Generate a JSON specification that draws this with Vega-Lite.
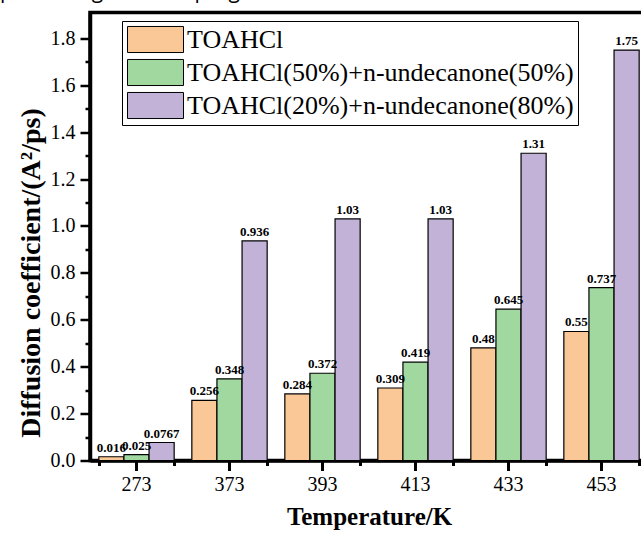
{
  "$schema": "https://vega.github.io/schema/vega-lite/v6.json",
  "autosize": {"type": "none"},
  "width": 558,
  "height": 448,
  "padding": {"left": 90, "top": 12.5, "right": 0, "bottom": 74.5},
  "background": "white",
  "title": {
    "text": "promoting reaction progress.",
    "anchor": "start",
    "frame": "group",
    "orient": "top",
    "offset": 0,
    "dx": -90,
    "dy": 6,
    "baseline": "alphabetic",
    "font": "Open Sans",
    "fontSize": 21,
    "fontWeight": "normal",
    "color": "black"
  },
  "config": {
    "view": {"stroke": "black", "strokeWidth": 3.5},
    "axis": {
      "domainColor": "black",
      "domainWidth": 3.5,
      "tickColor": "black",
      "labelColor": "black",
      "titleColor": "black",
      "labelFont": "Liberation Serif",
      "titleFont": "Liberation Serif",
      "grid": false
    }
  },
  "data": {
    "values": [
      {"Temperature": "273", "Series": "TOAHCl", "value": 0.016},
      {"Temperature": "273", "Series": "TOAHCl(50%)+n-undecanone(50%)", "value": 0.025},
      {"Temperature": "273", "Series": "TOAHCl(20%)+n-undecanone(80%)", "value": 0.0767},
      {"Temperature": "373", "Series": "TOAHCl", "value": 0.256},
      {"Temperature": "373", "Series": "TOAHCl(50%)+n-undecanone(50%)", "value": 0.348},
      {"Temperature": "373", "Series": "TOAHCl(20%)+n-undecanone(80%)", "value": 0.936},
      {"Temperature": "393", "Series": "TOAHCl", "value": 0.284},
      {"Temperature": "393", "Series": "TOAHCl(50%)+n-undecanone(50%)", "value": 0.372},
      {"Temperature": "393", "Series": "TOAHCl(20%)+n-undecanone(80%)", "value": 1.03},
      {"Temperature": "413", "Series": "TOAHCl", "value": 0.309},
      {"Temperature": "413", "Series": "TOAHCl(50%)+n-undecanone(50%)", "value": 0.419},
      {"Temperature": "413", "Series": "TOAHCl(20%)+n-undecanone(80%)", "value": 1.03},
      {"Temperature": "433", "Series": "TOAHCl", "value": 0.48},
      {"Temperature": "433", "Series": "TOAHCl(50%)+n-undecanone(50%)", "value": 0.645},
      {"Temperature": "433", "Series": "TOAHCl(20%)+n-undecanone(80%)", "value": 1.31},
      {"Temperature": "453", "Series": "TOAHCl", "value": 0.55},
      {"Temperature": "453", "Series": "TOAHCl(50%)+n-undecanone(50%)", "value": 0.737},
      {"Temperature": "453", "Series": "TOAHCl(20%)+n-undecanone(80%)", "value": 1.75}
    ]
  },
  "layer": [
    {
      "mark": {"type": "bar", "stroke": "black", "strokeWidth": 1.2},
      "encoding": {
        "x": {
          "field": "Temperature",
          "type": "ordinal",
          "scale": {"paddingInner": 0.19, "paddingOuter": 0.095},
          "axis": {
            "labelAngle": 0,
            "tickSize": 10,
            "tickWidth": 3,
            "labelFontSize": 20,
            "labelPadding": 4,
            "title": "Temperature/K",
            "titleFontSize": 25,
            "titleFontWeight": "bold",
            "titlePadding": 10
          }
        },
        "xOffset": {
          "field": "Series",
          "type": "nominal",
          "sort": ["TOAHCl", "TOAHCl(50%)+n-undecanone(50%)", "TOAHCl(20%)+n-undecanone(80%)"]
        },
        "y": {
          "field": "value",
          "type": "quantitative",
          "scale": {"domain": [0, 1.91], "nice": false, "zero": true},
          "axis": {
            "orient": "left",
            "values": [0, 0.2, 0.4, 0.6, 0.8, 1.0, 1.2, 1.4, 1.6, 1.8],
            "format": ".1f",
            "tickSize": 10,
            "tickWidth": 2.5,
            "labelFontSize": 20,
            "labelPadding": 5,
            "title": "Diffusion coefficient/(A²/ps)",
            "titleFontSize": 28,
            "titleFontWeight": "bold",
            "titlePadding": 5,
            "titleY": 260
          }
        },
        "color": {
          "field": "Series",
          "type": "nominal",
          "sort": ["TOAHCl", "TOAHCl(50%)+n-undecanone(50%)", "TOAHCl(20%)+n-undecanone(80%)"],
          "scale": {"range": ["#FAC796", "#A0D8A0", "#C3B2D8"]},
          "legend": {
            "title": null,
            "orient": "none",
            "legendX": 32,
            "legendY": 8.5,
            "padding": 4,
            "strokeColor": "black",
            "fillColor": "white",
            "symbolType": "M-2,-0.93H2V0.93H-2Z",
            "symbolSize": 784,
            "symbolStrokeColor": "black",
            "symbolStrokeWidth": 1,
            "symbolOpacity": 1,
            "symbolOffset": 15,
            "labelOffset": 17,
            "labelFont": "Liberation Serif",
            "labelFontSize": 26,
            "labelColor": "black",
            "labelLimit": 600,
            "rowPadding": 2
          }
        }
      }
    },
    {
      "mark": {"type": "text", "baseline": "bottom", "dy": -2, "font": "Liberation Serif", "fontWeight": "bold", "fontSize": 13, "color": "black"},
      "encoding": {
        "x": {
          "field": "Temperature",
          "type": "ordinal",
          "axis": {
            "orient": "bottom",
            "tickBand": "extent",
            "labels": false,
            "title": null,
            "domain": false,
            "tickSize": 5,
            "tickWidth": 3
          }
        },
        "xOffset": {
          "field": "Series",
          "type": "nominal",
          "sort": ["TOAHCl", "TOAHCl(50%)+n-undecanone(50%)", "TOAHCl(20%)+n-undecanone(80%)"]
        },
        "y": {
          "field": "value",
          "type": "quantitative",
          "axis": {
            "orient": "left",
            "values": [0.1, 0.3, 0.5, 0.7, 0.9, 1.1, 1.3, 1.5, 1.7],
            "labels": false,
            "title": null,
            "domain": false,
            "tickSize": 5,
            "tickWidth": 2.5
          }
        },
        "text": {"field": "value", "type": "nominal"}
      }
    }
  ],
  "resolve": {"axis": {"x": "independent", "y": "independent"}}
}
